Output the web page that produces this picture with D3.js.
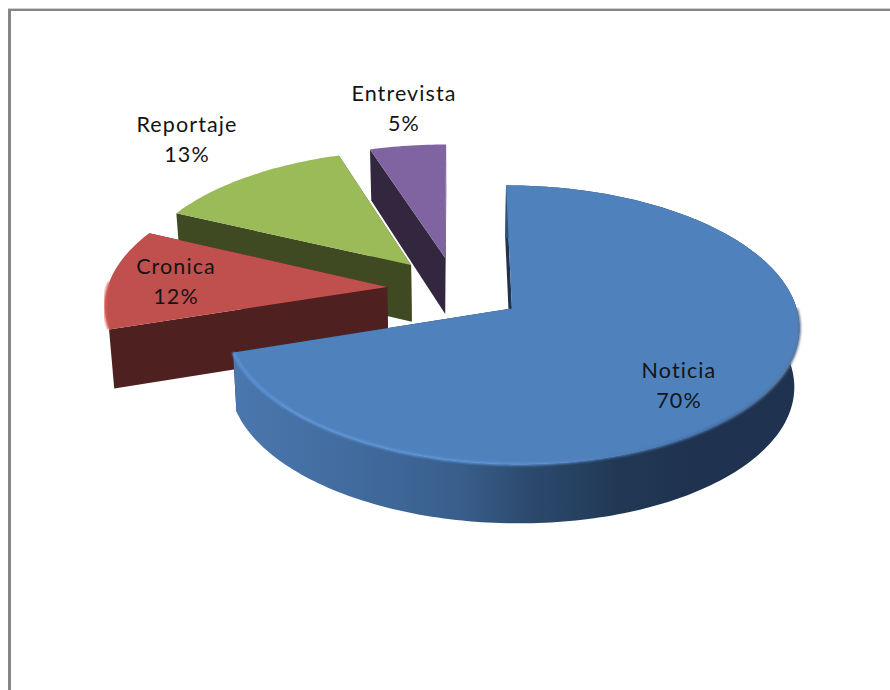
<!DOCTYPE html>
<html>
<head>
<meta charset="utf-8">
<title>Géneros periodísticos</title>
<script src="https://cdn.jsdelivr.net/npm/d3@7"></script>
<style>
  html, body { margin: 0; padding: 0; background: #fff; overflow: hidden; }
  svg { display: block; }
  text { font-family: Lato, "Open Sans", sans-serif; font-size: 21.5px; fill: #141414; text-anchor: middle; letter-spacing: 1.1px; }
</style>
</head>
<body>
<svg id="chart" width="890" height="690"></svg>
<script>
// Chart values
const categories = ["Noticia", "Cronica", "Reportaje", "Entrevista"];
const shares = [70, 12, 13, 5];

// Slice colours: top face and side face
const topColors = ["#4F81BD", "#C0504D", "#9BBB59", "#8064A2"];
const sideColors = ["#1F3350", "#4E201F", "#3F4A23", "#33263F"];

// Label anchors, in the order of the categories
const labelX = [679, 176, 187, 404];
const labelY = [370, 266, 124, 93];

const svg = d3.select("#chart");

// Explosion distance, as a fraction of the pie radius
const explode = 0.245;
const perspective = 0.115;
const thickness = 58;
const floorShrink = 0.985;

// Ground plane units (radius = 1) to screen pixels
const xScale = d3.scaleLinear().domain([0, 1]).range([455.5, 735.5]);
const yScale = d3.scaleLinear().domain([0, 1]).range([289, 422]);

function projectTop(gx, gy) {
  const s = 1 / (1 - perspective * gy);
  return [xScale(gx * s), yScale(gy * s)];
}
function projectBottom(gx, gy) {
  const s = 1 / (1 - perspective * gy);
  const x0 = xScale(0);
  return [x0 + (xScale(gx * s) - x0) * floorShrink,
          yScale(gy * s) + thickness * Math.min(s, 1.02)];
}

const pie = d3.pie().sort(null).value(d => d)(shares);
const line = d3.line();

function ground(slice, angle, r) {
  const mid = (slice.startAngle + slice.endAngle) / 2;
  return [explode * Math.sin(mid) + r * Math.sin(angle),
          -explode * Math.cos(mid) - r * Math.cos(angle)];
}
function arcAngles(a0, a1) {
  const n = Math.max(2, Math.ceil(Math.abs(a1 - a0) / 0.02));
  return d3.range(n + 1).map(i => a0 + (a1 - a0) * i / n);
}
function topPts(slice, angles) {
  return angles.map(a => projectTop(...ground(slice, a, 1)));
}
function bottomPts(slice, angles) {
  return angles.map(a => projectBottom(...ground(slice, a, 1)));
}
function apexTop(slice) { return projectTop(...ground(slice, 0, 0)); }
function apexBottom(slice) { return projectBottom(...ground(slice, 0, 0)); }

// Gradients
const defs = svg.append("defs");

const wallGrad = defs.append("linearGradient")
  .attr("id", "wallBlue").attr("gradientUnits", "userSpaceOnUse")
  .attr("x1", 235).attr("x2", 800).attr("y1", 0).attr("y2", 0);
[[0, "#4A77AE"], [0.2, "#426C9F"], [0.4, "#385E8B"], [0.52, "#2C4A6E"], [0.68, "#213854"], [0.8, "#1F3350"], [1, "#1F3350"]]
  .forEach(([o, c]) => wallGrad.append("stop").attr("offset", o).attr("stop-color", c));

const rimGrad = defs.append("linearGradient")
  .attr("id", "rimBlue").attr("gradientUnits", "userSpaceOnUse")
  .attr("x1", 235).attr("x2", 805).attr("y1", 0).attr("y2", 0);
[[0, "#5F97DC"], [0.5, "#5C93D6"], [0.64, "#4F81BD"], [0.85, "#3F6A9C"], [1, "#5B7898"]]
  .forEach(([o, c]) => rimGrad.append("stop").attr("offset", o).attr("stop-color", c));

defs.append("filter").attr("id", "soft")
  .attr("x", "-5%").attr("y", "-5%").attr("width", "110%").attr("height", "110%")
  .append("feGaussianBlur").attr("stdDeviation", 0.8);

// Chart frame, open at the right and bottom
svg.append("line").attr("x1", 8).attr("x2", 890).attr("y1", 8.5).attr("y2", 8.5)
  .attr("stroke", "#d0d0d0").attr("stroke-width", 1);
svg.append("line").attr("x1", 8).attr("x2", 890).attr("y1", 10).attr("y2", 10)
  .attr("stroke", "#868686").attr("stroke-width", 2);
svg.append("line").attr("x1", 9.5).attr("x2", 9.5).attr("y1", 9).attr("y2", 690)
  .attr("stroke", "#868686").attr("stroke-width", 3);

// Slices are painted from the back of the pie to the front
const order = [3, 2, 1, 0];
order.forEach(i => {
  const slice = pie[i];
  const g = svg.append("g").attr("class", "slice").datum(slice);
  const a = slice.startAngle, b = slice.endAngle;

  // Cut faces running from the apex to each end of the rim
  [b, a].forEach(angle => {
    const pts = [apexTop(slice), topPts(slice, [angle])[0],
                 bottomPts(slice, [angle])[0], apexBottom(slice)];
    g.append("path").attr("d", line(pts) + "Z").attr("fill", sideColors[i]);
  });

  // Outer wall under the rim: only the large front slice shows one
  const ang = arcAngles(a, b);
  if (i === 0) {
    const wall = topPts(slice, ang).concat(bottomPts(slice, ang).reverse());
    g.append("path").attr("d", line(wall) + "Z").attr("fill", "url(#wallBlue)");
  }

  // Top face
  const top = [apexTop(slice)].concat(topPts(slice, ang));
  g.append("path").attr("d", line(top) + "Z").attr("fill", topColors[i]);
});

// Rim highlights
const blue = pie[0];
svg.append("path")
  .attr("d", line(topPts(blue, arcAngles(blue.endAngle, Math.PI * 0.5))))
  .attr("fill", "none").attr("stroke", "url(#rimBlue)").attr("stroke-width", 2.6)
  .attr("filter", "url(#soft)");
const red = pie[1];
svg.append("path")
  .attr("d", line(topPts(red, arcAngles(red.startAngle, red.startAngle + 0.35))))
  .attr("fill", "none").attr("stroke", "#DA635E").attr("stroke-width", 2.4)
  .attr("filter", "url(#soft)");

// Category and percentage labels
const lineGap = 30;
categories.forEach((name, i) => {
  const t = svg.append("text").attr("x", labelX[i]).attr("y", labelY[i]);
  t.append("tspan").attr("x", labelX[i]).attr("dy", "0.35em").text(name);
  t.append("tspan").attr("x", labelX[i]).attr("dy", lineGap).text(shares[i] + "%");
});
</script>
</body>
</html>
